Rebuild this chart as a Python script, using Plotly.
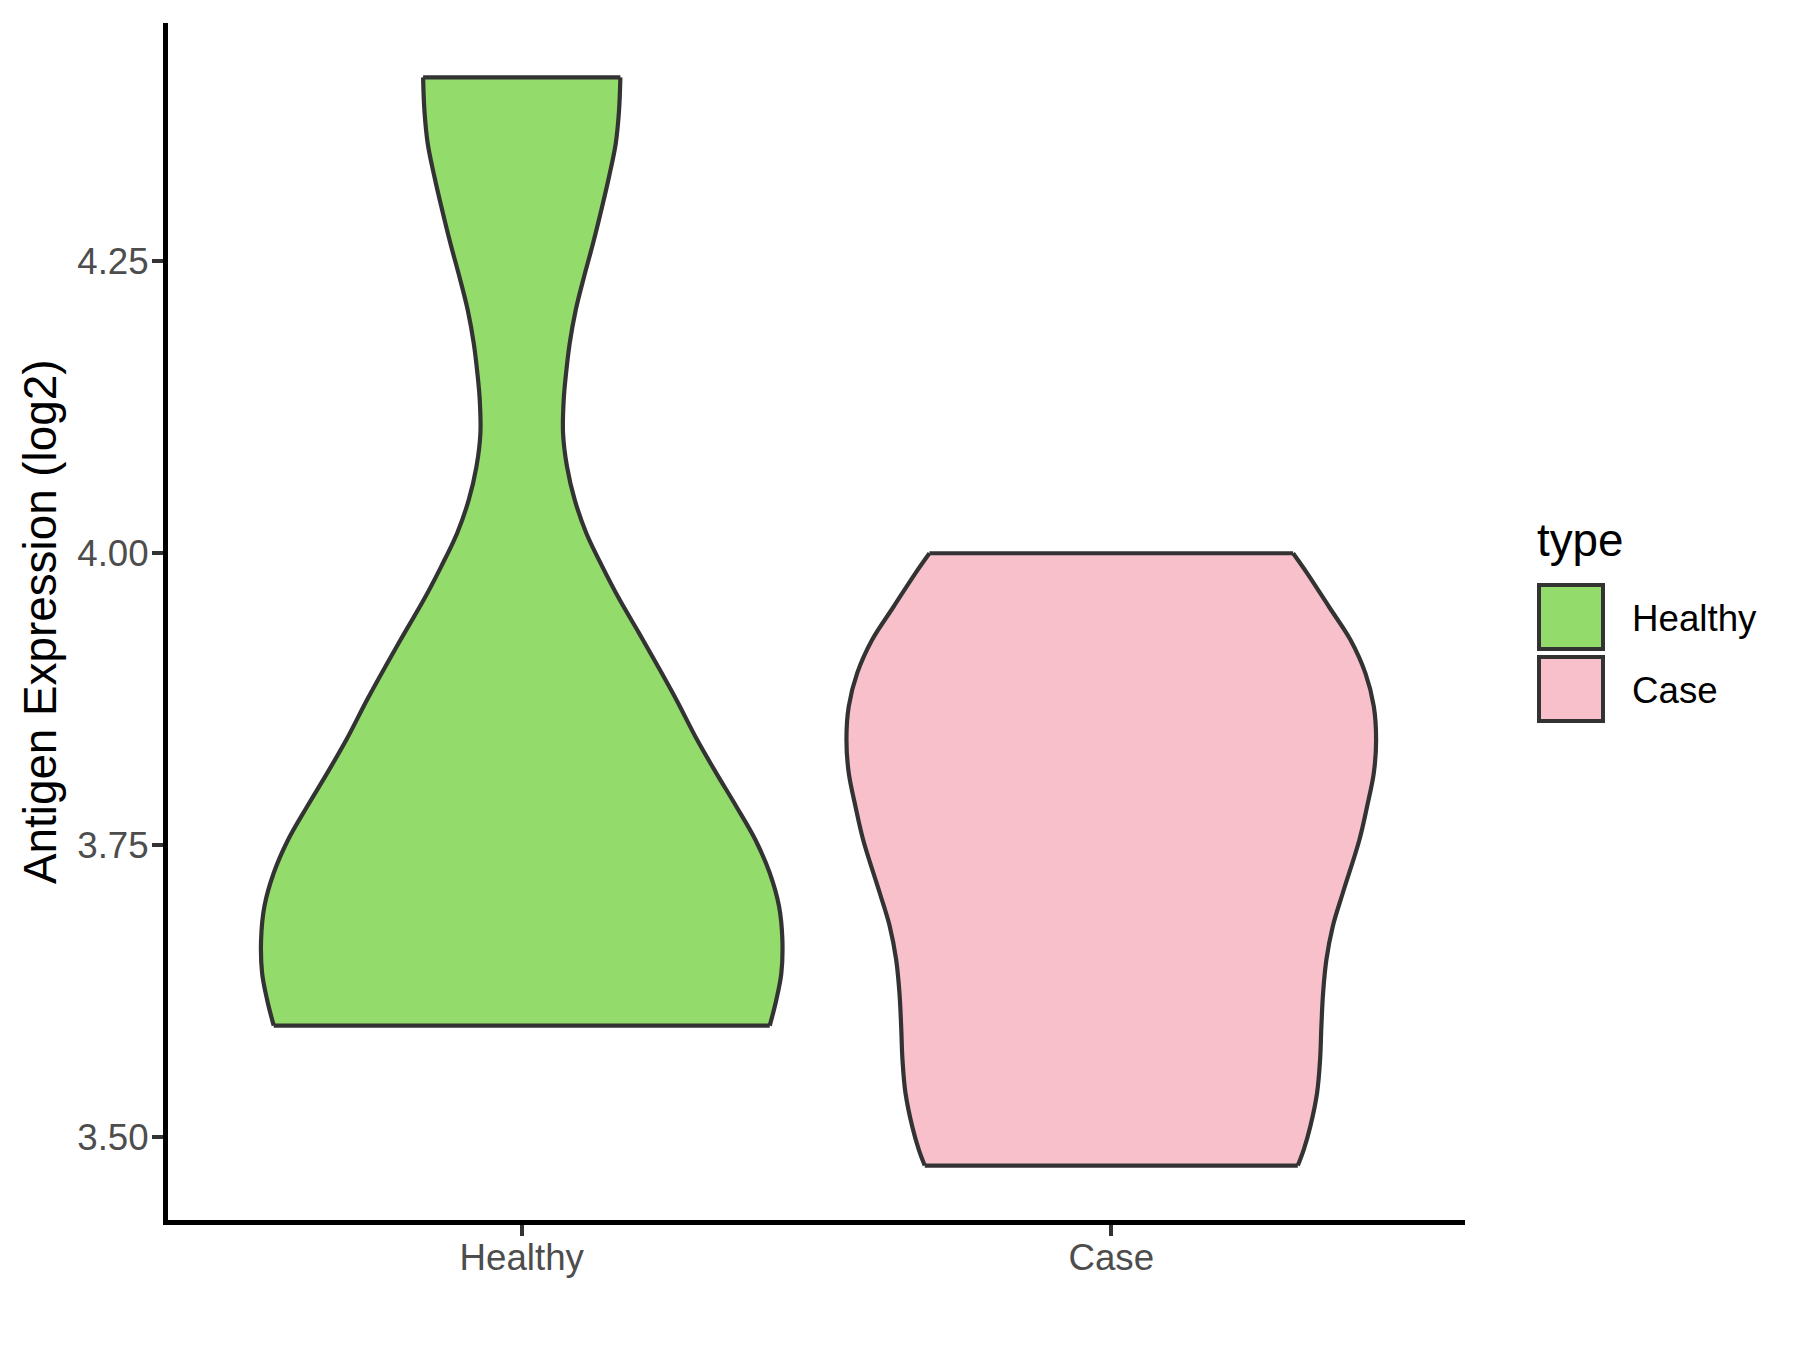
import plotly.graph_objects as go

# ---- data ----
categories = ["Healthy", "Case"]
fill_colors = ["#93DB6A", "#F7C0CB"]

healthy_y = [3.5954, 3.6176, 3.6405, 3.6690, 3.6975, 3.7261, 3.7546, 3.7831, 3.8117,
             3.8402, 3.8745, 3.9030, 3.9316, 3.9601, 3.9886, 4.0172, 4.0457, 4.0742,
             4.1028, 4.1313, 4.1513, 4.1799, 4.2084, 4.2369, 4.2655, 4.2940, 4.3225,
             4.3511, 4.3796, 4.4076]
healthy_hw = [0.4207, 0.4319, 0.4404, 0.4421, 0.4365, 0.4207, 0.3963, 0.3640, 0.3300,
              0.2975, 0.2623, 0.2312, 0.1990, 0.1662, 0.1367, 0.1096, 0.0899, 0.0768,
              0.0701, 0.0712, 0.0746, 0.0814, 0.0916, 0.1057, 0.1210, 0.1350, 0.1481,
              0.1595, 0.1651, 0.1673]

case_y = [3.4755, 3.4892, 3.5092, 3.5378, 3.5663, 3.5948, 3.6234, 3.6519, 3.6804,
          3.7090, 3.7546, 3.7831, 3.8117, 3.8402, 3.8688, 3.8973, 3.9259,
          3.9544, 3.9830, 4.0000]
case_hw = [0.3164, 0.3265, 0.3377, 0.3491, 0.3542, 0.3564, 0.3593, 0.3649, 0.3757,
           0.3927, 0.4209, 0.4339, 0.4453, 0.4492, 0.4453, 0.4310, 0.4056,
           0.3690, 0.3321, 0.3084]

y_ticks = [3.50, 3.75, 4.00, 4.25]
y_ticklabels = ["3.50", "3.75", "4.00", "4.25"]
y_title = "Antigen Expression (log2)"
legend_title = "type"

# ---- layout geometry (page pixels; the page body has an 8px margin) ----
OFF = 8
W, H = 1800 - OFF, 1350 - OFF
PL, PR, PT, PB = 168, 1465, 23, 1220          # plot area on the page
L, T = PL - OFF, PT - OFF
R, B = W - (PR - OFF), H - (PB - OFF)
PW, PH = W - L - R, H - T - B
FONT = "Liberation Sans, Arial, sans-serif"
OUTLINE = "#333333"


def px_x(p):
    return (p - PL) / PW


def px_y(p):
    return (PB - p) / PH


fig = go.Figure()

profiles = [(healthy_y, healthy_hw), (case_y, case_hw)]
for i, (ys, hws) in enumerate(profiles):
    pos = i + 1
    left = [pos - w for w in hws]
    right = [pos + w for w in hws]
    fig.add_trace(go.Scatter(x=left, y=ys, mode="lines",
                             line=dict(color=OUTLINE, width=4.2, shape="spline", smoothing=1),
                             showlegend=False, hoverinfo="skip"))
    fig.add_trace(go.Scatter(x=right, y=ys, mode="lines", fill="tonextx",
                             fillcolor=fill_colors[i],
                             line=dict(color=OUTLINE, width=4.2, shape="spline", smoothing=1),
                             showlegend=False, hoverinfo="skip"))
    fig.add_trace(go.Scatter(x=[left[0], right[0], None, left[-1], right[-1]],
                             y=[ys[0], ys[0], None, ys[-1], ys[-1]],
                             mode="lines", line=dict(color=OUTLINE, width=4.2),
                             showlegend=False, hoverinfo="skip"))

all_y = healthy_y + case_y
lo, hi = min(all_y), max(all_y)
span = hi - lo
y_range = [lo - 0.05 * span, hi + 0.05 * span]

fig.update_layout(
    width=W, height=H,
    margin=dict(l=L, r=R, t=T, b=B, autoexpand=False),
    paper_bgcolor="white", plot_bgcolor="white",
    font=dict(family=FONT, color="#4D4D4D"),
    showlegend=False,
    xaxis=dict(range=[0.4, 2.6], tickmode="array", tickvals=[1, 2], ticktext=categories,
               showgrid=False, zeroline=False, showline=True, linecolor="black", linewidth=5,
               ticks="outside", ticklen=11, tickwidth=4, tickcolor=OUTLINE,
               ticklabelstandoff=-10,
               tickfont=dict(size=36.7, color="#4D4D4D", family=FONT)),
    yaxis=dict(range=y_range, tickmode="array", tickvals=y_ticks, ticktext=y_ticklabels,
               showgrid=False, zeroline=False, showline=True, linecolor="black", linewidth=5,
               ticks="outside", ticklen=11, tickwidth=4, tickcolor=OUTLINE,
               ticklabelstandoff=-4,
               tickfont=dict(size=36.7, color="#4D4D4D", family=FONT)),
)

annotations = [
    dict(text=y_title, textangle=-90, xref="paper", yref="paper",
         x=px_x(40), y=px_y(622), xanchor="center", yanchor="middle", showarrow=False,
         font=dict(size=45.8, color="black", family=FONT)),
    dict(text=legend_title, xref="paper", yref="paper", x=px_x(1535), y=px_y(540),
         xanchor="left", yanchor="middle", showarrow=False,
         font=dict(size=45.8, color="black", family=FONT)),
]
shapes = []
key_tops = [583, 655]
label_centers = [618, 690]
for i, cat in enumerate(categories):
    shapes.append(dict(type="rect", xref="paper", yref="paper",
                       x0=px_x(1539), x1=px_x(1603),
                       y0=px_y(key_tops[i] + 2), y1=px_y(key_tops[i] + 66),
                       fillcolor=fill_colors[i], line=dict(color=OUTLINE, width=4)))
    annotations.append(dict(text=cat, xref="paper", yref="paper", x=px_x(1630),
                            y=px_y(label_centers[i]), xanchor="left", yanchor="middle",
                            showarrow=False, font=dict(size=36.7, color="black", family=FONT)))

fig.update_layout(annotations=annotations, shapes=shapes)
fig.write_html("out.html")
